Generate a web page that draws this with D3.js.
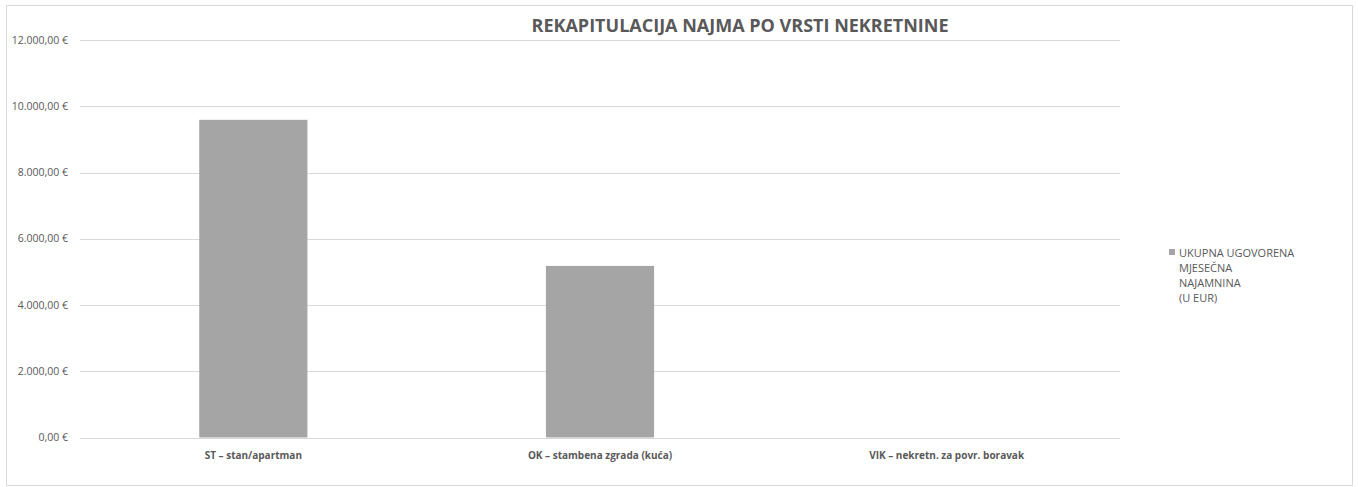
<!DOCTYPE html>
<html>
<head>
  <meta charset="UTF-8">
  <style>
    body { margin: 0; background: #fff; font-family: 'Open Sans', sans-serif; }
    .tick-label { fill: #595959; font-size: 10.5px; }
    .cat-label { fill: #595959; font-size: 10px; font-weight: 700; }
    .title { fill: #595959; font-size: 18px; font-weight: 700; }
    .legend-text { fill: #595959; font-size: 11px; }
  </style>
  <script src="https://d3js.org/d3.v7.min.js"></script>
</head>
<body>
<svg id="chart" width="1358" height="487"></svg>
<script>
// data
const categories = ['ST – stan/apartman', 'OK – stambena zgrada (kuća)', 'VIK – nekretn. za povr. boravak'];
const values = [9590, 5180, 0];
const yTicks = [0, 2000, 4000, 6000, 8000, 10000, 12000];
const seriesName = ['UKUPNA UGOVORENA', 'MJESEČNA', 'NAJAMNINA', '(U EUR)'];

const svg = d3.select('#chart');
const margin = { left: 80, right: 1120, top: 40, bottom: 437.5 };

// outer chart border
svg.append('rect')
  .attr('x', 6.5).attr('y', 5.5)
  .attr('width', 1346).attr('height', 480)
  .attr('fill', '#fff').attr('stroke', '#d9d9d9');

const x = d3.scaleBand()
  .domain(categories)
  .range([margin.left, margin.right])
  .paddingInner(0.688)
  .paddingOuter(0.344);

const y = d3.scaleLinear()
  .domain([0, 12000])
  .range([margin.bottom, margin.top]);

const fmt = v => {
  const s = d3.format(',.2f')(v);
  return s.replace(/,/g, '#').replace('.', ',').replace(/#/g, '.') + ' €';
};

// gridlines
svg.append('g').selectAll('line')
  .data(yTicks)
  .join('line')
  .attr('x1', margin.left).attr('x2', margin.right)
  .attr('y1', d => Math.round(y(d)) + 0.5).attr('y2', d => Math.round(y(d)) + 0.5)
  .attr('stroke', '#d9d9d9');

svg.append('g').selectAll('text')
  .data(yTicks)
  .join('text')
  .attr('class', 'tick-label')
  .attr('x', 68)
  .attr('y', d => y(d) + 3.5)
  .attr('text-anchor', 'end')
  .text(fmt);

// bars
svg.append('g').selectAll('rect')
  .data(values)
  .join('rect')
  .attr('x', (d, i) => x(categories[i]))
  .attr('y', d => y(d))
  .attr('width', x.bandwidth())
  .attr('height', d => y(0) - y(d))
  .attr('fill', '#a5a5a5');

// category labels
svg.append('g').selectAll('text')
  .data(categories)
  .join('text')
  .attr('class', 'cat-label')
  .attr('x', d => x(d) + x.bandwidth() / 2)
  .attr('y', 459)
  .attr('text-anchor', 'middle')
  .text(d => d);

// title
svg.append('text')
  .attr('class', 'title')
  .attr('x', 740)
  .attr('y', 32)
  .attr('text-anchor', 'middle')
  .text('REKAPITULACIJA NAJMA PO VRSTI NEKRETNINE');

// legend
svg.append('rect')
  .attr('x', 1169).attr('y', 249)
  .attr('width', 6).attr('height', 6)
  .attr('fill', '#a5a5a5');

svg.append('g').selectAll('text')
  .data(seriesName)
  .join('text')
  .attr('class', 'legend-text')
  .attr('x', 1179)
  .attr('y', (d, i) => 257 + i * 15)
  .text(d => d);
</script>
</body>
</html>
